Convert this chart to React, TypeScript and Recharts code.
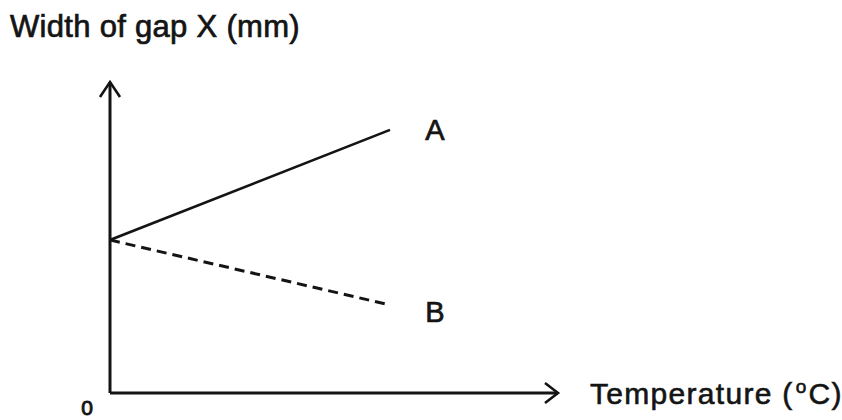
import React from 'react';
import { LineChart, Line, XAxis, YAxis } from 'recharts';

// Temperature (arbitrary units, schematic)
const temperatures = [0, 10];
// Width of gap X for rod arrangement A and B (arbitrary units, schematic)
const gapA = [4.92, 8.46];
const gapB = [4.92, 2.83];
const seriesLabels = ['A', 'B'];
const xTicks = [0];

const data = temperatures.map((t, i) => ({ t, a: gapA[i], b: gapB[i] }));

const FONT = '"Liberation Sans", Arial, Helvetica, sans-serif';
const INK = '#141414';

const XArrowLabel = (props: any) => {
  const vb = props.viewBox || {};
  const tipX = vb.x + vb.width;
  const tipY = vb.y;
  return (
    <g>
      <polyline
        points={`${tipX - 13},${tipY - 10} ${tipX},${tipY} ${tipX - 13},${tipY + 10}`}
        fill="none"
        stroke={INK}
        strokeWidth={2.6}
      />
      <text
        x={tipX + 32}
        y={tipY + 11}
        fontFamily={FONT}
        fontSize={30}
        letterSpacing={1.3}
        fill={INK}
        stroke={INK}
        strokeWidth={0.6}
      >
        Temperature (
        <tspan dx={2} dy={-11} fontSize={19}>o</tspan>
        <tspan dx={1} dy={11}>C)</tspan>
      </text>
    </g>
  );
};

const YArrowLabel = (props: any) => {
  const vb = props.viewBox || {};
  const tipX = vb.x + vb.width;
  const tipY = vb.y;
  return (
    <g>
      <polyline
        points={`${tipX - 10},${tipY + 15} ${tipX},${tipY} ${tipX + 10},${tipY + 15}`}
        fill="none"
        stroke={INK}
        strokeWidth={2.6}
      />
      <text
        x={tipX - 100}
        y={tipY - 45}
        fontFamily={FONT}
        fontSize={31}
        letterSpacing={0.3}
        fill={INK}
        stroke={INK}
        strokeWidth={0.7}
      >
        Width of gap X (mm)
      </text>
    </g>
  );
};

const ZeroTick = (props: any) => {
  const { x, y, payload } = props;
  return (
    <g>
      <text
        x={x - 23}
        y={y + 14}
        textAnchor="middle"
        fontFamily={FONT}
        fontSize={21}
        fill={INK}
        stroke={INK}
        strokeWidth={0.9}
      >
        {String(payload.value)}
      </text>
    </g>
  );
};

const makeEndLabel = (text: string, dy: number) => (props: any) => {
  const { x, y, index } = props;
  if (index !== temperatures.length - 1) return null;
  return (
    <text
      x={x + 45}
      y={y + dy}
      textAnchor="middle"
      style={{ fontFamily: FONT, fontSize: 29, fill: INK, stroke: INK, strokeWidth: 0.7 }}
    >
      {text}
    </text>
  );
};

export default function App() {
  return (
    <div style={{ position: 'absolute', left: 0, top: 0, width: 842, height: 420, background: '#fff' }}>
      <LineChart width={842} height={420} data={data} margin={{ top: 82, right: 284, bottom: 0, left: 60 }}>
        <XAxis
          dataKey="t"
          type="number"
          domain={[0, 16]}
          ticks={xTicks}
          allowDataOverflow
          height={27}
          tickLine={false}
          axisLine={{ stroke: INK, strokeWidth: 3 }}
          tick={ZeroTick}
          label={<XArrowLabel />}
        />
        <YAxis
          type="number"
          domain={[0, 10]}
          allowDataOverflow
          width={50}
          tick={false}
          tickLine={false}
          axisLine={{ stroke: INK, strokeWidth: 3 }}
          label={<YArrowLabel />}
        />
        <Line
          type="linear"
          dataKey="a"
          stroke={INK}
          strokeWidth={2.6}
          dot={false}
          isAnimationActive={false}
          label={makeEndLabel(seriesLabels[0], 10)}
        />
        <Line
          type="linear"
          dataKey="b"
          stroke={INK}
          strokeWidth={3}
          strokeDasharray="10 6"
          dot={false}
          isAnimationActive={false}
          label={makeEndLabel(seriesLabels[1], 17)}
        />
      </LineChart>
    </div>
  );
}
